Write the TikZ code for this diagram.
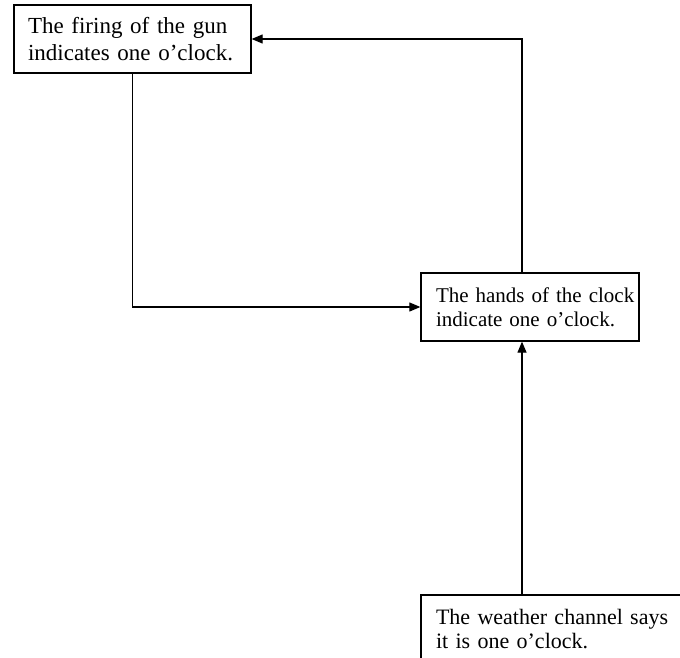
\documentclass[tikz,border=0pt]{standalone}
\usepackage{fontspec}
\setmainfont{Liberation Serif}
\usetikzlibrary{arrows.meta}
\begin{document}
\begin{tikzpicture}[x=1pt,y=-1pt,
  box/.style={draw,line width=1.3pt,inner xsep=15pt,inner ysep=0pt,align=left,
    minimum height=68pt},
  conn/.style={line width=1.2pt,-{Triangle[length=11pt,width=9pt]}}]
\useasboundingbox (0,0) rectangle (680,658);
\clip (0,0) rectangle (680,658);
\fill[white] (0,0) rectangle (680,658);
\node[box,inner xsep=14pt,text width=209pt,font=\fontsize{23}{27}\selectfont] (gun) at (132.5,39)
  {\mbox{The firing of the gun}\\\mbox{indicates one o'clock.}};
\node[box,text width=188pt,font=\fontsize{21}{24}\selectfont] (hands) at (530,307)
  {\mbox{The hands of the clock}\\\mbox{indicate one o'clock.}};
\node[box,text width=249pt,font=\fontsize{22}{23.5}\selectfont] (weather) at (560.5,629)
  {\mbox{The weather channel says}\\\mbox{it is one o'clock.}};
\coordinate (vx) at (522,0);
\draw[conn] (gun.south) |- (hands.west);
\draw[conn] (hands.north -| vx) |- (gun.east);
\draw[conn] (weather.north -| vx) -- (hands.south -| vx);
\end{tikzpicture}
\end{document}
